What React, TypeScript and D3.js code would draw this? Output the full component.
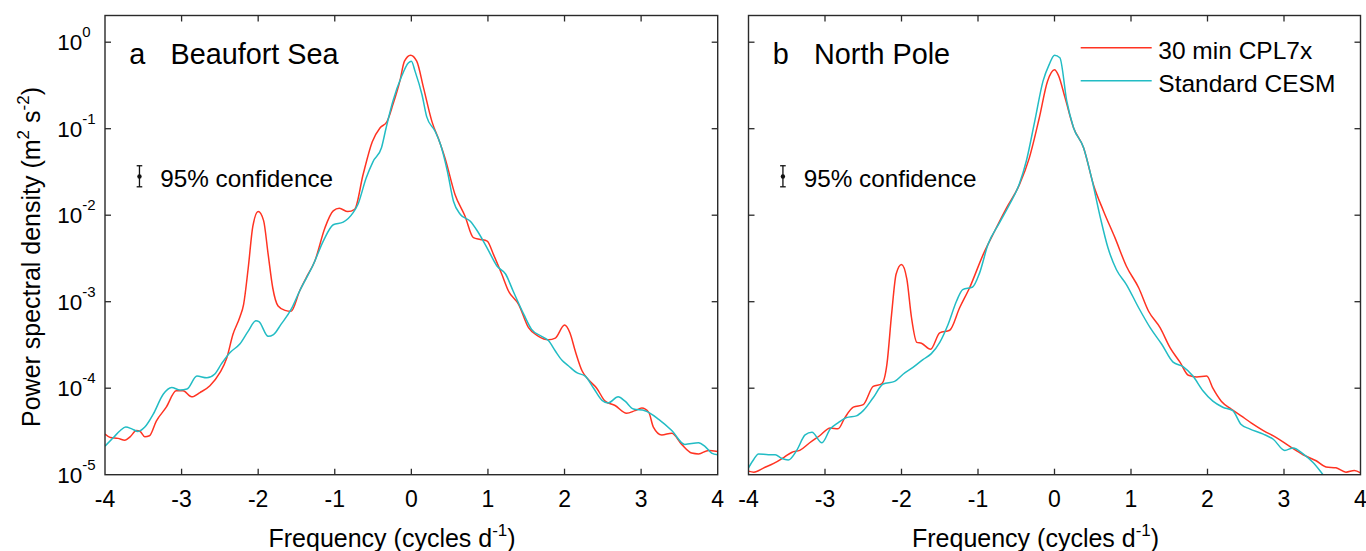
import React from 'react';
import * as d3 from 'd3';

// ---------- data ----------
const xTicks = [-4, -3, -2, -1, 0, 1, 2, 3, 4];
const yTickExponents = [0, -1, -2, -3, -4, -5];
const yTickValues = [1, 1e-1, 1e-2, 1e-3, 1e-4, 1e-5];
const seriesNames = ['30 min CPL7x', 'Standard CESM'];
const panelLetters = ['a', 'b'];
const panelNames = ['Beaufort Sea', 'North Pole'];

// [frequency (cycles/day), PSD (m^2 s^-2)]
const beaufortCpl7x: [number, number][] = [
  [-4.0, 2.95e-5], [-3.93, 2.69e-5], [-3.83, 2.63e-5], [-3.74, 2.51e-5], [-3.67, 2.75e-5],
  [-3.59, 3.24e-5], [-3.54, 3.16e-5], [-3.48, 2.75e-5], [-3.42, 2.82e-5], [-3.33, 4.17e-5],
  [-3.2, 6.03e-5], [-3.07, 9.33e-5], [-2.98, 9.33e-5], [-2.87, 7.94e-5], [-2.76, 8.91e-5],
  [-2.63, 1.07e-4], [-2.5, 1.51e-4], [-2.41, 2.24e-4], [-2.33, 4.17e-4], [-2.24, 6.61e-4],
  [-2.19, 9.33e-4], [-2.13, 2.45e-3], [-2.07, 7.41e-3], [-2.0, 1.1e-2], [-1.93, 8.71e-3],
  [-1.87, 3.55e-3], [-1.81, 1.45e-3], [-1.74, 8.91e-4], [-1.65, 7.94e-4], [-1.57, 7.76e-4],
  [-1.46, 1.32e-3], [-1.37, 1.91e-3], [-1.26, 2.95e-3], [-1.13, 7.08e-3], [-1.02, 1.12e-2],
  [-0.94, 1.2e-2], [-0.83, 1.1e-2], [-0.74, 1.17e-2], [-0.63, 2.95e-2], [-0.51, 7.08e-2],
  [-0.41, 1.02e-1], [-0.32, 1.2e-1], [-0.24, 1.91e-1], [-0.15, 3.55e-1], [-0.09, 6.03e-1],
  [-0.01, 7.08e-1], [0.07, 6.03e-1], [0.16, 2.95e-1], [0.27, 1.2e-1], [0.36, 7.41e-2],
  [0.44, 4.57e-2], [0.57, 1.74e-2], [0.7, 9.77e-3], [0.81, 5.5e-3], [0.9, 5.25e-3],
  [0.99, 5.01e-3], [1.07, 3.55e-3], [1.18, 2.09e-3], [1.27, 1.32e-3], [1.4, 9.33e-4],
  [1.53, 5.01e-4], [1.66, 3.98e-4], [1.79, 3.63e-4], [1.88, 3.8e-4], [2.0, 5.37e-4],
  [2.07, 4.37e-4], [2.14, 2.69e-4], [2.23, 1.58e-4], [2.31, 1.26e-4], [2.42, 1.0e-4],
  [2.53, 7.08e-5], [2.66, 6.31e-5], [2.81, 5.13e-5], [2.92, 5.5e-5], [3.01, 5.89e-5],
  [3.1, 5.25e-5], [3.16, 3.55e-5], [3.27, 2.88e-5], [3.4, 3.02e-5], [3.53, 2.24e-5],
  [3.66, 1.78e-5], [3.75, 1.74e-5], [3.88, 1.91e-5], [4.0, 1.86e-5],
];

const beaufortStandard: [number, number][] = [
  [-4.0, 2.14e-5], [-3.89, 2.69e-5], [-3.8, 3.24e-5], [-3.73, 3.55e-5], [-3.65, 3.39e-5],
  [-3.57, 3.16e-5], [-3.48, 3.55e-5], [-3.37, 5.01e-5], [-3.24, 8.51e-5], [-3.13, 1.02e-4],
  [-3.02, 9.55e-5], [-2.93, 9.77e-5], [-2.8, 1.38e-4], [-2.67, 1.32e-4], [-2.57, 1.45e-4],
  [-2.48, 1.91e-4], [-2.37, 2.57e-4], [-2.24, 3.24e-4], [-2.13, 4.57e-4], [-2.03, 6.03e-4],
  [-1.99, 5.89e-4], [-1.87, 3.98e-4], [-1.8, 4.17e-4], [-1.7, 5.5e-4], [-1.57, 8.13e-4],
  [-1.46, 1.32e-3], [-1.28, 2.69e-3], [-1.15, 5.01e-3], [-1.02, 7.76e-3], [-0.89, 8.32e-3],
  [-0.76, 1.07e-2], [-0.7, 1.32e-2], [-0.59, 2.69e-2], [-0.5, 4.17e-2], [-0.39, 6.03e-2],
  [-0.33, 1.02e-1], [-0.24, 2.09e-1], [-0.13, 3.98e-1], [-0.04, 5.75e-1], [0.0, 6.03e-1],
  [0.05, 4.57e-1], [0.14, 2.45e-1], [0.2, 1.38e-1], [0.31, 9.33e-2], [0.38, 6.61e-2],
  [0.47, 3.24e-2], [0.55, 1.45e-2], [0.64, 1.02e-2], [0.77, 8.51e-3], [0.86, 6.61e-3],
  [0.99, 4.17e-3], [1.12, 2.57e-3], [1.23, 2.09e-3], [1.33, 1.32e-3], [1.47, 7.08e-4],
  [1.57, 4.79e-4], [1.7, 3.98e-4], [1.79, 3.55e-4], [1.88, 2.69e-4], [1.97, 2.09e-4],
  [2.05, 1.82e-4], [2.16, 1.51e-4], [2.27, 1.38e-4], [2.38, 1.0e-4], [2.49, 7.24e-5],
  [2.57, 6.76e-5], [2.7, 7.94e-5], [2.79, 7.08e-5], [2.9, 5.75e-5], [3.05, 5.5e-5],
  [3.23, 4.37e-5], [3.4, 3.24e-5], [3.57, 2.24e-5], [3.75, 2.34e-5], [3.83, 2.14e-5],
  [3.92, 1.78e-5], [4.0, 1.7e-5],
];

const northPoleCpl7x: [number, number][] = [
  [-4.0, 1.1e-5], [-3.93, 1.07e-5], [-3.8, 1.2e-5], [-3.67, 1.35e-5], [-3.54, 1.58e-5],
  [-3.43, 1.82e-5], [-3.33, 1.91e-5], [-3.2, 2.34e-5], [-3.07, 2.82e-5], [-2.93, 3.47e-5],
  [-2.83, 3.39e-5], [-2.74, 4.57e-5], [-2.63, 6.03e-5], [-2.5, 6.46e-5], [-2.37, 1.05e-4],
  [-2.26, 1.12e-4], [-2.19, 1.91e-4], [-2.13, 7.08e-4], [-2.07, 2.09e-3], [-2.0, 2.69e-3],
  [-1.93, 1.82e-3], [-1.87, 6.61e-4], [-1.8, 3.39e-4], [-1.74, 3.31e-4], [-1.62, 2.82e-4],
  [-1.5, 4.37e-4], [-1.37, 4.68e-4], [-1.24, 8.51e-4], [-1.11, 1.45e-3], [-0.93, 3.55e-3],
  [-0.78, 6.61e-3], [-0.63, 1.2e-2], [-0.46, 2.24e-2], [-0.33, 4.57e-2], [-0.2, 1.32e-1],
  [-0.09, 3.55e-1], [0.0, 4.79e-1], [0.05, 4.17e-1], [0.14, 2.24e-1], [0.25, 1.02e-1],
  [0.38, 6.03e-2], [0.51, 2.24e-2], [0.64, 1.12e-2], [0.79, 5.5e-3], [0.94, 2.57e-3],
  [1.1, 1.45e-3], [1.23, 7.76e-4], [1.38, 5.01e-4], [1.51, 2.95e-4], [1.64, 2.0e-4],
  [1.75, 1.41e-4], [1.86, 1.35e-4], [1.99, 1.38e-4], [2.07, 1.0e-4], [2.18, 7.08e-5],
  [2.31, 5.75e-5], [2.44, 4.79e-5], [2.57, 3.98e-5], [2.73, 3.24e-5], [2.9, 2.69e-5],
  [3.07, 2.14e-5], [3.25, 1.7e-5], [3.42, 1.45e-5], [3.55, 1.23e-5], [3.68, 1.2e-5],
  [3.81, 1.07e-5], [3.92, 1.12e-5], [4.0, 1.05e-5],
];

const northPoleStandard: [number, number][] = [
  [-4.0, 1.2e-5], [-3.93, 1.51e-5], [-3.87, 1.74e-5], [-3.74, 1.7e-5], [-3.65, 1.7e-5],
  [-3.57, 1.55e-5], [-3.48, 1.48e-5], [-3.37, 1.91e-5], [-3.26, 2.88e-5], [-3.17, 3.09e-5],
  [-3.04, 2.34e-5], [-2.93, 3.39e-5], [-2.83, 3.98e-5], [-2.72, 4.57e-5], [-2.59, 4.79e-5],
  [-2.5, 5.5e-5], [-2.37, 7.76e-5], [-2.24, 1.12e-4], [-2.09, 1.2e-4], [-1.98, 1.45e-4],
  [-1.85, 1.74e-4], [-1.72, 2.14e-4], [-1.61, 2.51e-4], [-1.5, 3.39e-4], [-1.39, 5.5e-4],
  [-1.28, 1.02e-3], [-1.2, 1.38e-3], [-1.07, 1.48e-3], [-0.98, 2.14e-3], [-0.87, 4.57e-3],
  [-0.72, 8.13e-3], [-0.59, 1.32e-2], [-0.46, 2.29e-2], [-0.37, 4.17e-2], [-0.26, 1.2e-1],
  [-0.15, 3.55e-1], [-0.07, 5.5e-1], [0.0, 7.08e-1], [0.07, 6.61e-1], [0.16, 2.09e-1],
  [0.25, 1.02e-1], [0.38, 6.03e-2], [0.49, 2.57e-2], [0.6, 9.33e-3], [0.7, 4.17e-3],
  [0.81, 2.34e-3], [0.94, 1.58e-3], [1.1, 8.51e-4], [1.25, 5.01e-4], [1.4, 3.24e-4],
  [1.55, 2.0e-4], [1.68, 1.78e-4], [1.81, 1.38e-4], [1.94, 9.33e-5], [2.07, 7.08e-5],
  [2.2, 6.03e-5], [2.33, 5.5e-5], [2.44, 3.8e-5], [2.55, 3.39e-5], [2.73, 2.95e-5],
  [2.86, 2.57e-5], [3.01, 1.91e-5], [3.12, 2.04e-5], [3.25, 1.74e-5], [3.38, 1.38e-5],
  [3.51, 1.0e-5], [3.6, 7.9e-6],
];

// 95% confidence marker: [frequency, low, centre, high]
const confidenceBar = [-3.55, 2.13e-2, 2.8e-2, 3.73e-2];

// ---------- style / layout ----------
const W = 1366;
const H = 551;
const RED = '#ff3322';
const CYAN = '#22bcc4';
const AXIS = '#2a2a2a';
const FONT = '"Liberation Sans", Arial, Helvetica, sans-serif';

const PANEL_TOP = 15.5;
const PANEL_BOTTOM = 474.7;
const panelX = [
  [105, 717.7],
  [748.5, 1360.5],
];

const yScale = d3.scaleLog().domain([1e-5, 1]).range([PANEL_BOTTOM, 42.2]);

const panelsData = [
  [beaufortCpl7x, beaufortStandard],
  [northPoleCpl7x, northPoleStandard],
];
const colors = [RED, CYAN];

function Panel({ idx }: { idx: number }) {
  const [x0, x1] = panelX[idx];
  const xScale = d3.scaleLinear().domain([-4, 4]).range([x0, x1]);
  const line = d3
    .line<[number, number]>()
    .x((d) => xScale(d[0]))
    .y((d) => yScale(d[1]))
    .curve(d3.curveMonotoneX);
  const clipId = `clip-${idx}`;
  const tick = 6;
  const [cf, clo, cmid, chi] = confidenceBar;
  const cx = xScale(cf);
  return (
    <g>
      <defs>
        <clipPath id={clipId}>
          <rect x={x0} y={PANEL_TOP} width={x1 - x0} height={PANEL_BOTTOM - PANEL_TOP} />
        </clipPath>
      </defs>
      <g clipPath={`url(#${clipId})`}>
        {panelsData[idx].map((s, i) => (
          <path key={i} d={line(s) || ''} fill="none" stroke={colors[i]} strokeWidth={1.5} strokeLinejoin="round" />
        ))}
      </g>
      {/* frame */}
      <rect x={x0} y={PANEL_TOP} width={x1 - x0} height={PANEL_BOTTOM - PANEL_TOP} fill="none" stroke={AXIS} strokeWidth={1.4} />
      {/* x ticks */}
      {xTicks.slice(1, -1).map((t) => (
        <g key={`xt${t}`}>
          <line x1={xScale(t)} x2={xScale(t)} y1={PANEL_BOTTOM} y2={PANEL_BOTTOM - tick} stroke={AXIS} strokeWidth={1.3} />
          <line x1={xScale(t)} x2={xScale(t)} y1={PANEL_TOP} y2={PANEL_TOP + tick} stroke={AXIS} strokeWidth={1.3} />
        </g>
      ))}
      {xTicks.map((t) => (
        <text key={`xl${t}`} x={xScale(t)} y={506.5} textAnchor="middle" fontSize={23} fontFamily={FONT} fill="#000">
          {String(t)}
        </text>
      ))}
      {/* y ticks */}
      {yTickValues.slice(0, -1).map((v) => (
        <g key={`yt${v}`}>
          <line x1={x0} x2={x0 + tick} y1={yScale(v)} y2={yScale(v)} stroke={AXIS} strokeWidth={1.3} />
          <line x1={x1} x2={x1 - tick} y1={yScale(v)} y2={yScale(v)} stroke={AXIS} strokeWidth={1.3} />
        </g>
      ))}
      {idx === 0 &&
        yTickValues.map((v, i) => (
          <text key={`yl${v}`} x={57.3} y={yScale(v) + 8} fontSize={22.5} fontFamily={FONT} fill="#000">
            10
            <tspan dy={-13} fontSize={15}>
              {String(yTickExponents[i])}
            </tspan>
          </text>
        ))}
      {/* panel title */}
      <text x={x0 + 24.3} y={64} fontSize={28.8} fontFamily={FONT} fill="#000">
        {panelLetters[idx]}
      </text>
      <text x={x0 + 65.5} y={64} fontSize={28.8} fontFamily={FONT} fill="#000">
        {panelNames[idx]}
      </text>
      {/* confidence bar */}
      <g stroke="#111" strokeWidth={1.3}>
        <line x1={cx} x2={cx} y1={yScale(chi)} y2={yScale(clo)} />
        <line x1={cx - 2.8} x2={cx + 2.8} y1={yScale(chi)} y2={yScale(chi)} />
        <line x1={cx - 2.8} x2={cx + 2.8} y1={yScale(clo)} y2={yScale(clo)} />
      </g>
      <circle cx={cx} cy={yScale(cmid)} r={2.2} fill="#111" />
      <text x={cx + 20.7} y={186.5} fontSize={24.3} fontFamily={FONT} fill="#000">
        95% confidence
      </text>
      {/* x axis label */}
      <text x={x0 + 163.5} y={546.5} fontSize={25} fontFamily={FONT} fill="#000">
        Frequency (cycles d
        <tspan dy={-11} fontSize={17}>-1</tspan>
        <tspan dy={11}>)</tspan>
      </text>
    </g>
  );
}

export default function App() {
  return (
    <svg width={W} height={H} style={{ position: 'absolute', left: 0, top: 0, background: '#fff' }}>
      <rect x={0} y={0} width={W} height={H} fill="#fff" />
      <Panel idx={0} />
      <Panel idx={1} />
      {/* y axis label */}
      <text transform="translate(40,427) rotate(-90)" fontSize={25} fontFamily={FONT} fill="#000">
        Power spectral density (m
        <tspan dy={-11} fontSize={17}>2</tspan>
        <tspan dy={11}> s</tspan>
        <tspan dy={-11} fontSize={17}>-2</tspan>
        <tspan dy={11}>)</tspan>
      </text>
      {/* legend */}
      {seriesNames.map((name, i) => (
        <g key={name}>
          <line x1={1080.7} x2={1151.7} y1={47.8 + i * 33} y2={47.8 + i * 33} stroke={colors[i]} strokeWidth={1.5} />
          <text x={1158.3} y={59.3 + i * 33} fontSize={24.5} fontFamily={FONT} fill="#000">
            {name}
          </text>
        </g>
      ))}
    </svg>
  );
}
